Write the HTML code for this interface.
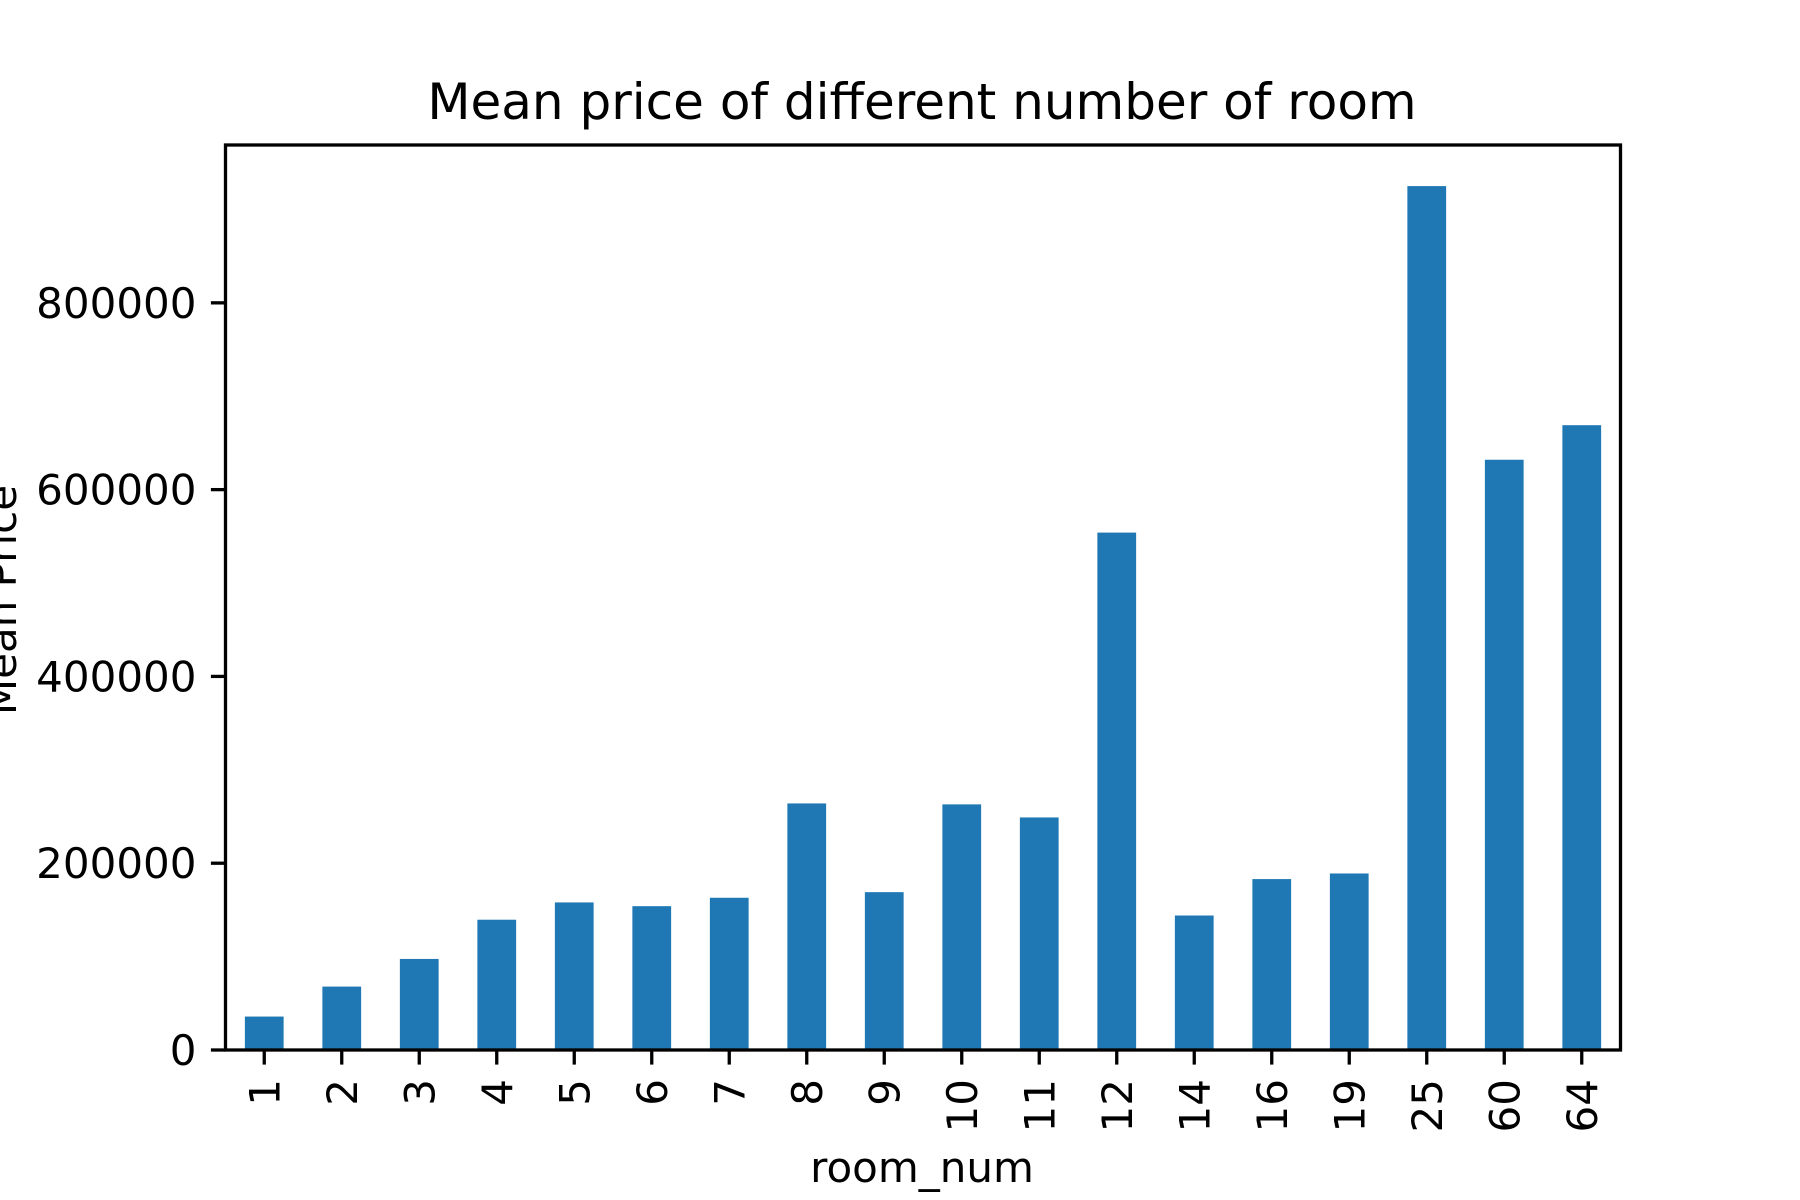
<!DOCTYPE html>
<html><head><meta charset="utf-8"><style>body{margin:0;background:#fff}svg{display:block}text{font-family:"DejaVu Sans","Liberation Sans",sans-serif;fill:#000}</style></head>
<body>
<svg id="chart" width="1800" height="1200" xmlns="http://www.w3.org/2000/svg">
<rect width="1800" height="1200" fill="#fff"/>
<text x="922" y="119" font-size="50" text-anchor="middle">Mean price of different number of room</text>
<g id="bars"></g><g id="xt"></g><g id="yt"></g>
<rect x="225.5" y="145" width="1395" height="905" fill="none" stroke="#000" stroke-width="3.3"/>
<text x="922" y="1182" font-size="42" text-anchor="middle">room_num</text>
<text transform="translate(16,600) rotate(-90)" font-size="42" text-anchor="middle">Mean Price</text>
</svg>
<script>
const categories=["1","2","3","4","5","6","7","8","9","10","11","12","14","16","19","25","60","64"];
const values=[35800,67900,97500,139500,158000,154000,163000,264000,169000,263000,249000,554000,144000,183000,189000,925000,632000,669000];
const yTicks=[0,200000,400000,600000,800000];
const L=225.5,R=1620.5,T=145,B=1050,yMax=969000;
const ns="http://www.w3.org/2000/svg";
const unit=(R-L)/categories.length;
const xS=i=>L+(i+0.5)*unit;
const yS=v=>B-v/yMax*(B-T);
const bars=document.getElementById('bars'),xt=document.getElementById('xt'),yt=document.getElementById('yt');
categories.forEach((c,i)=>{
const r=document.createElementNS(ns,'rect');


r.setAttribute('x',xS(i)-unit/4);r.setAttribute('width',unit/2);
r.setAttribute('y',yS(values[i]));r.setAttribute('height',B-yS(values[i]));
r.setAttribute('fill','#1f77b4');bars.appendChild(r);
const tk=document.createElementNS(ns,'line');


tk.setAttribute('x1',xS(i));tk.setAttribute('x2',xS(i));tk.setAttribute('y1',B);tk.setAttribute('y2',B+14.6);
tk.setAttribute('stroke','#000');tk.setAttribute('stroke-width','3.3');xt.appendChild(tk);
const t=document.createElementNS(ns,'text');


t.setAttribute('font-size','42');t.setAttribute('text-anchor','end');
t.setAttribute('transform','translate('+(xS(i)+15)+','+(B+29)+') rotate(-90)');
t.textContent=c;xt.appendChild(t);
});
yTicks.forEach(v=>{
const tk=document.createElementNS(ns,'line');


tk.setAttribute('x1',L-14.6);tk.setAttribute('x2',L);tk.setAttribute('y1',yS(v));tk.setAttribute('y2',yS(v));
tk.setAttribute('stroke','#000');tk.setAttribute('stroke-width','3.3');yt.appendChild(tk);
const t=document.createElementNS(ns,'text');


t.setAttribute('font-size','42');t.setAttribute('text-anchor','end');
t.setAttribute('x',L-29);t.setAttribute('y',yS(v)+15);
t.textContent=v;yt.appendChild(t);
});
</script>
</body></html>
